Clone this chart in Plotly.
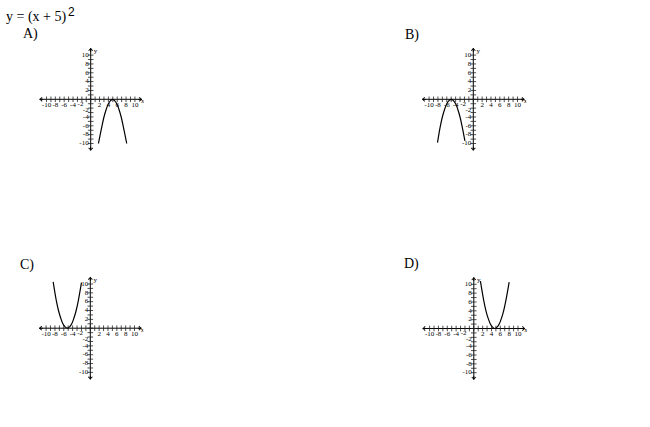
import plotly.graph_objects as go

W, H = 650, 427

# ---- data ----
panel_names = ["A)", "B)", "C)", "D)"]

a_x = [1.75, 2.5, 3.0, 3.5, 4.0, 4.5, 4.95, 5.4, 5.9, 6.4, 6.9, 7.4, 8.15]
a_y = [-10.0, -6.3, -4.0, -2.3, -1.0, -0.3, 0.0, -0.3, -1.0, -2.3, -4.0, -6.3, -10.0]

b_x = [-8.1, -7.5, -7.0, -6.5, -6.0, -5.5, -5.0, -4.5, -4.0, -3.5, -3.0, -2.5, -1.9]
b_y = [-9.8, -6.3, -4.0, -2.3, -1.0, -0.3, 0.0, -0.3, -1.0, -2.3, -4.0, -6.3, -9.4]

c_x = [-8.4, -7.7, -7.2, -6.7, -6.2, -5.7, -5.2, -4.7, -4.2, -3.7, -3.2, -2.7, -2.0]
c_y = [10.5, 6.3, 4.0, 2.3, 1.0, 0.3, 0.0, 0.3, 1.0, 2.3, 4.0, 6.3, 10.3]

d_x = [1.5, 2.25, 2.75, 3.25, 3.75, 4.25, 4.75, 5.25, 5.75, 6.25, 6.75, 7.25, 8.0]
d_y = [10.7, 6.3, 4.0, 2.3, 1.0, 0.3, 0.0, 0.3, 1.0, 2.3, 4.0, 6.3, 10.5]

curves_x = [a_x, b_x, c_x, d_x]
curves_y = [a_y, b_y, c_y, d_y]

tick_values = list(range(-10, 11))
label_values = [-10, -8, -6, -4, -2, 2, 4, 6, 8, 10]
label_texts = [str(v) for v in label_values]
axis_end = 11.6

# ---- layout geometry (pixels) ----
centers = [(90.7, 99.3), (473.3, 99.3), (90.3, 328.2), (473.8, 328.5)]
scale = 4.42  # px per unit
rng = 12.0
half = rng * scale

# label placement (nudge the two "-2" labels that crowd the origin)
xlab_x = [v - 0.3 if v == -2 else v for v in label_values]
xlab_y = [-1.1 if v == -2 else -1.35 for v in label_values]
ylab_y = [v - 0.4 if v == -2 else v for v in label_values]

fig = go.Figure()
layout = dict(
    width=W, height=H, autosize=False,
    margin=dict(l=0, r=0, t=0, b=0),
    paper_bgcolor="white", plot_bgcolor="rgba(0,0,0,0)",
    showlegend=False,
)
annotations = []
serif = "Liberation Serif"
lab_font = dict(family=serif, size=7, color="black")

for i, (cx, cy) in enumerate(centers):
    n = "" if i == 0 else str(i + 1)
    xa, ya = "x" + n, "y" + n
    layout["xaxis" + n] = dict(
        domain=[(cx - half) / W, (cx + half) / W], range=[-rng, rng],
        visible=False, fixedrange=True, anchor=ya,
    )
    layout["yaxis" + n] = dict(
        domain=[(H - cy - half) / H, (H - cy + half) / H], range=[-rng, rng],
        visible=False, fixedrange=True, anchor=xa,
    )
    # axis lines
    fig.add_trace(go.Scatter(x=[-axis_end, axis_end], y=[0, 0], mode="lines",
                             line=dict(color="black", width=1), xaxis=xa, yaxis=ya,
                             hoverinfo="skip"))
    fig.add_trace(go.Scatter(x=[0, 0], y=[-axis_end, axis_end], mode="lines",
                             line=dict(color="black", width=1), xaxis=xa, yaxis=ya,
                             hoverinfo="skip"))
    # tick marks
    fig.add_trace(go.Scatter(x=tick_values, y=[0] * len(tick_values), mode="markers",
                             marker=dict(symbol="line-ns", size=4,
                                         line=dict(color="#222", width=0.8)),
                             xaxis=xa, yaxis=ya, hoverinfo="skip"))
    fig.add_trace(go.Scatter(x=[0] * len(tick_values), y=tick_values, mode="markers",
                             marker=dict(symbol="line-ew", size=4,
                                         line=dict(color="#222", width=0.8)),
                             xaxis=xa, yaxis=ya, hoverinfo="skip"))
    # tick labels
    fig.add_trace(go.Scatter(x=xlab_x, y=xlab_y, mode="text",
                             text=label_texts, textposition="middle center",
                             textfont=lab_font, xaxis=xa, yaxis=ya, hoverinfo="skip"))
    fig.add_trace(go.Scatter(x=[-0.45] * len(label_values), y=ylab_y, mode="text",
                             text=label_texts, textposition="middle left",
                             textfont=lab_font, xaxis=xa, yaxis=ya, hoverinfo="skip"))
    fig.add_trace(go.Scatter(x=[11.8, 1.1], y=[-0.4, 10.9], mode="text",
                             text=["x", "y"], textposition="middle center",
                             textfont=lab_font, xaxis=xa, yaxis=ya, hoverinfo="skip"))
    # curve
    fig.add_trace(go.Scatter(x=curves_x[i], y=curves_y[i], mode="lines",
                             line=dict(color="black", width=1.2, shape="spline"),
                             xaxis=xa, yaxis=ya, hoverinfo="skip"))
    # arrowheads
    for (hx, hy) in [(axis_end, 0), (-axis_end, 0), (0, axis_end), (0, -axis_end)]:
        annotations.append(dict(
            x=hx, y=hy, ax=hx * 0.9, ay=hy * 0.9, xref=xa, yref=ya, axref=xa, ayref=ya,
            text="", showarrow=True, arrowhead=4, arrowsize=0.8, arrowwidth=1,
            arrowcolor="black",
        ))

# titles and panel letters
annotations.append(dict(text="y = (x + 5)", x=4 / W, y=1 - 17 / H, xref="paper", yref="paper",
                        xanchor="left", yanchor="middle", showarrow=False,
                        font=dict(family=serif, size=14, color="black")))
annotations.append(dict(text="2", x=65.5 / W, y=1 - 12 / H, xref="paper", yref="paper",
                        xanchor="left", yanchor="middle", showarrow=False,
                        font=dict(family="Liberation Sans", size=12, color="black")))
letter_pos = [(20.5, 34), (403, 35), (17.5, 265), (402, 264)]
for name, (lx, ly) in zip(panel_names, letter_pos):
    annotations.append(dict(text=name, x=lx / W, y=1 - ly / H, xref="paper", yref="paper",
                            xanchor="left", yanchor="middle", showarrow=False,
                            font=dict(family=serif, size=14, color="black")))

layout["annotations"] = annotations
fig.update_layout(**layout)
fig.write_html("out.html", config={"displayModeBar": False},
               post_script="document.body.style.margin='0px';")
